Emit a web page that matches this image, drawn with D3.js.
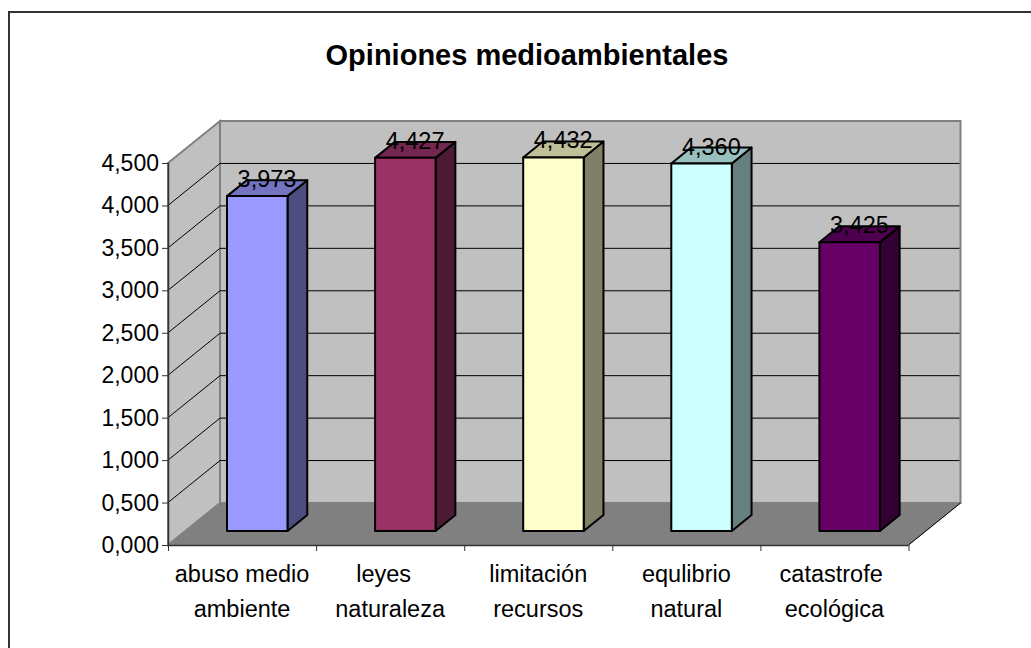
<!DOCTYPE html>
<html>
<head>
<meta charset="utf-8">
<script src="https://cdnjs.cloudflare.com/ajax/libs/d3/7.8.5/d3.min.js"></script>
<style>
  html, body { margin: 0; padding: 0; background: #fff; }
  svg { display: block; }
  text { font-family: "Liberation Sans", Arial, sans-serif; fill: #000; white-space: pre; }
</style>
</head>
<body>
<div id="chart"></div>
<script>
var categories = [["abuso medio", "ambiente"], ["leyes  ", "naturaleza"], ["limitación", "recursos"], ["equlibrio", "natural"], ["catastrofe ", "ecológica"]]
var values = [3.973, 4.427, 4.432, 4.360, 3.425]
var valueLabels = ["3,973", "4,427", "4,432", "4,360", "3,425"]
var yTicks = [0, 0.5, 1, 1.5, 2, 2.5, 3, 3.5, 4, 4.5]
var frontColors = ["#9999ff", "#993366", "#ffffcc", "#ccffff", "#660066"]
var topColors = ["#7373bf", "#732650", "#bfbf99", "#99bfbf", "#4d004d"]
var sideColors = ["#4d4d80", "#4d1a33", "#808066", "#668080", "#330033"]

var width = 1031, height = 648
var depthX = 52, depthY = -42

var svg = d3.select("#chart").append("svg")
  .attr("width", width)
  .attr("height", height)

var x = d3.scaleBand().domain(d3.range(values.length)).range([168, 908.5]).paddingInner(0).paddingOuter(0)
var y = d3.scaleLinear().domain([0, 4.5]).range([545, 163])
// bars stand a bit further back so they come out slightly foreshortened
var barY = d3.scaleLinear().domain([0, 4.5]).range([531, 151.7])

// point in 3d box, d = 0 front of the floor, d = 1 back wall
function px(vx, d) { return vx + depthX * d }
function py(v, d) { return y(v) + depthY * d }
function poly(pts) { return pts.map(function(p){ return p.join(",") }).join(" ") }

// chart frame
svg.append("path")
  .attr("d", "M9,648V12H1031")
  .attr("fill", "none")
  .attr("stroke", "#333")
  .attr("stroke-width", 2)

svg.append("text")
  .attr("x", 527)
  .attr("y", 65)
  .attr("text-anchor", "middle")
  .style("font-size", "29px")
  .style("font-weight", "bold")
  .text("Opiniones medioambientales")

var x0 = x.range()[0], x1 = x.range()[1]

// walls
svg.append("polygon")
  .attr("points", poly([[px(x0, 1), py(4.5, 1)], [px(x1, 1), py(4.5, 1)], [px(x1, 1), py(0, 1)], [px(x0, 1), py(0, 1)]]))
  .attr("fill", "#c0c0c0").attr("stroke", "#808080").attr("stroke-width", 2)
svg.append("polygon")
  .attr("points", poly([[px(x0, 0), py(4.5, 0)], [px(x0, 1), py(4.5, 1)], [px(x0, 1), py(0, 1)], [px(x0, 0), py(0, 0)]]))
  .attr("fill", "#c0c0c0").attr("stroke", "#808080").attr("stroke-width", 2)
svg.append("polygon")
  .attr("points", poly([[px(x0, 0), py(0, 0)], [px(x0, 1), py(0, 1)], [px(x1, 1), py(0, 1)], [px(x1, 0), py(0, 0)]]))
  .attr("fill", "#808080").attr("stroke", "#808080")

// gridlines, side wall then back wall
var grid = svg.append("g").attr("fill", "none").attr("stroke", "#000").attr("stroke-width", 1)
yTicks.slice(1, -1).forEach(function(t){
  grid.append("polyline")
    .attr("points", poly([[px(x0, 0), py(t, 0)], [px(x0, 1), py(t, 1)], [px(x1, 1) - 1, py(t, 1)]]))
})
grid.append("line")
  .attr("x1", px(x1, 0)).attr("y1", py(0, 0))
  .attr("x2", px(x1, 1)).attr("y2", py(0, 1))

// axes
var yAxis = svg.append("g")
yAxis.append("line")
  .attr("x1", x0 + 0.5).attr("x2", x0 + 0.5).attr("y1", y(4.5)).attr("y2", y(0))
  .attr("stroke", "#333").attr("stroke-width", 1.5)
yAxis.selectAll("line.tick").data(yTicks).enter().append("line")
  .attr("class", "tick")
  .attr("x1", x0 - 6).attr("x2", x0)
  .attr("y1", function(d){ return y(d) + 0.5 })
  .attr("y2", function(d){ return y(d) + 0.5 })
  .attr("stroke", "#333")
yAxis.selectAll("text").data(yTicks).enter().append("text")
  .attr("x", x0 - 9)
  .attr("y", function(d){ return y(d) + 8 })
  .attr("text-anchor", "end")
  .style("font-size", "23px")
  .text(function(d){ return d3.format(".3f")(d).replace(".", ",") })

var xAxis = svg.append("g")
xAxis.append("line")
  .attr("x1", x0).attr("x2", x1).attr("y1", y(0) + 0.5).attr("y2", y(0) + 0.5)
  .attr("stroke", "#333").attr("stroke-width", 1.5)
xAxis.selectAll("line.tick").data(d3.range(values.length + 1)).enter().append("line")
  .attr("class", "tick")
  .attr("x1", function(d){ return x0 + d * x.bandwidth() + 0.5 })
  .attr("x2", function(d){ return x0 + d * x.bandwidth() + 0.5 })
  .attr("y1", y(0)).attr("y2", y(0) + 6)
  .attr("stroke", "#333")

var labels = xAxis.selectAll("text").data(categories).enter().append("text")
  .attr("text-anchor", "middle")
  .style("font-size", "23.5px")
labels.each(function(d, i){
  var cx = x(i) + x.bandwidth() / 2
  d3.select(this).selectAll("tspan").data(d).enter().append("tspan")
    .attr("x", cx)
    .attr("y", function(t, j){ return 582 + j * 35 })
    .text(function(t){ return t })
})

// bars
var barW = 60.5, barDepth = 0.38, barInset = 59
var bars = svg.selectAll("g.bar").data(values).enter().append("g").attr("class", "bar")
  .attr("stroke", "#000").attr("stroke-width", 2).attr("stroke-linejoin", "round")

bars.each(function(v, i){
  var g = d3.select(this)
  var fx0 = x(i) + barInset, fx1 = fx0 + barW
  var bx0 = fx0 + depthX * barDepth, bx1 = fx1 + depthX * barDepth
  var yBot = barY(0), yTop = barY(v)
  var dy = depthY * barDepth
  g.append("polygon").attr("fill", sideColors[i])
    .attr("points", poly([[fx1, yTop], [bx1, yTop + dy], [bx1, yBot + dy], [fx1, yBot]]))
  g.append("polygon").attr("fill", topColors[i])
    .attr("points", poly([[fx0, yTop], [bx0, yTop + dy], [bx1, yTop + dy], [fx1, yTop]]))
  g.append("polygon").attr("fill", frontColors[i])
    .attr("points", poly([[fx0, yTop], [fx1, yTop], [fx1, yBot], [fx0, yBot]]))
})

svg.selectAll("text.val").data(values).enter().append("text")
  .attr("class", "val")
  .attr("text-anchor", "middle")
  .attr("x", function(d, i){ return x(i) + barInset + 40 })
  .attr("y", function(d){ return barY(d) - 9 })
  .style("font-size", "23.5px")
  .text(function(d, i){ return valueLabels[i] })
</script>
</body>
</html>
